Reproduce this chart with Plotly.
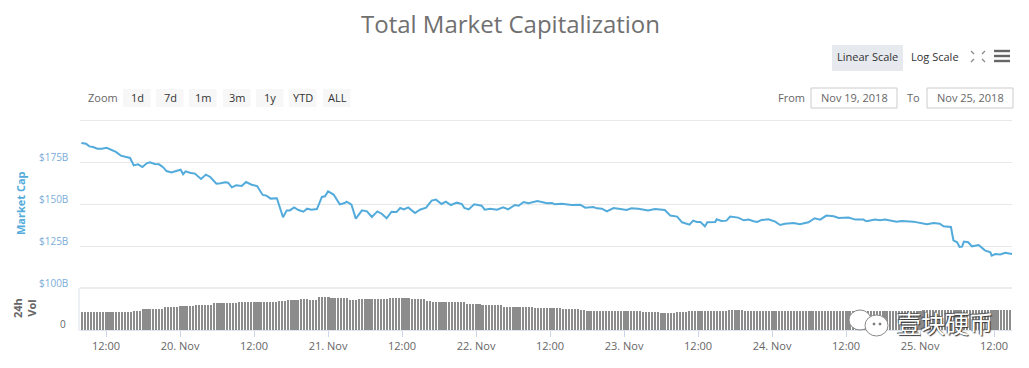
import pandas as pd
import plotly.graph_objects as go

W, H = 1029, 368

# Market cap series: hours since 2018-11-19 00:00, value in $B
cap_hours = [8.0,8.75,9.3,9.9,10.6,11.3,12.1,12.9,13.6,14.4,15.1,15.9,16.5,17.2,17.9,18.6,19.1,19.9,20.6,21.3,21.8,22.6,23.5,24.1,24.5,24.9,25.6,26.4,27.4,28.2,28.9,29.9,30.6,31.3,31.8,32.4,33.1,34.0,34.7,35.6,36.5,37.4,38.0,38.7,39.7,40.2,40.7,41.3,41.8,42.5,43.2,44.0,44.6,45.3,46.2,47.0,47.5,48.0,48.9,49.9,50.7,
51.0,51.8,52.5,53.5,54.3,55.1,56.0,56.7,57.5,58.3,59.1,59.7,60.3,61.0,62.1,62.9,63.9,64.8,65.5,66.4,67.1,67.9,68.9,69.7,70.1,70.8,71.7,72.9,73.4,74.3,75.4,76.4,77.2,78.3,78.9,79.7,80.5,81.95,83.5,84.3,84.8,85.9,87.5,88.9,89.7,91.0,91.6,92.4,93.2,94.3,95.4,96.4,97.2,98.3,99.9,101.0,102.6,103.5,104.6,105.4,106.6,
107.2,107.8,108.4,109.1,109.5,110.8,111.0,111.8,112.6,113.2,114.5,115.4,116.2,117.0,117.6,118.3,119.4,120.5,121.3,122.1,123.5,124.5,125.9,126.9,127.8,128.8,130.0,130.8,132.4,133.5,134.8,135.3,136.7,137.5,138.3,140.2,141.0,142.9,145.1,146.2,147.2,147.8,149.0,149.4,150.0,150.4,150.8,151.1,151.8,152.4,153.5,154.5,155.4,155.6,156.2,157.0,157.8,158.9]
cap_values = [186.3,185.9,184.3,183.9,182.9,182.9,183.5,182.3,181.0,178.8,178.0,177.4,173.0,173.6,172.0,174.2,174.8,173.8,173.6,171.8,169.6,168.8,169.8,170.4,167.7,169.4,168.6,168.1,164.9,167.5,166.1,162.1,162.3,162.9,162.7,159.9,161.1,160.7,163.1,161.5,160.7,155.4,155.0,153.2,153.4,147.6,142.1,146.2,146.2,148.0,146.4,145.4,147.2,146.6,147.0,154.2,154.6,157.5,155.6,149.8,150.6,
151.4,149.6,141.3,146.2,145.6,142.3,145.6,144.2,141.5,145.4,145.2,147.6,146.8,148.0,144.6,146.6,147.8,152.0,152.6,150.0,151.4,149.4,150.8,150.0,147.6,146.8,149.8,149.0,146.6,147.2,146.6,148.0,146.8,149.4,149.0,151.2,150.4,151.8,150.4,150.6,149.8,150.2,149.4,149.6,147.8,148.2,147.4,147.2,145.6,147.6,147.0,146.4,147.4,147.2,146.2,147.0,146.4,143.1,142.5,139.1,137.7,
140.1,139.3,139.3,136.7,139.1,139.3,140.9,139.9,140.1,142.5,141.9,140.3,140.7,139.7,139.3,140.5,140.9,139.5,137.5,138.3,138.7,137.9,139.1,141.5,140.7,143.1,142.7,141.7,141.9,140.7,140.7,139.7,140.7,140.3,140.7,139.5,139.9,139.5,137.9,138.7,138.3,136.7,136.3,128.4,127.2,124.4,124.6,127.6,127.2,124.8,125.6,122.4,121.2,119.2,120.2,120.0,121.0,120.2]

# 24h volume, half-hourly, as plateaus: level ($B) and number of bars
vol_levels = [12.4,12.8,13.5,14.7,15.9,16.8,17.5,18.7,19.4,20.1,21.0,21.7,21.0,22.9,22.2,21.2,21.9,22.4,21.5,20.5,19.4,18.2,17.3,16.1,15.4,14.7,14.0,13.5,13.1,12.4,11.7,12.4,13.1,13.5,14.0,13.5,13.6,13.1,14.0]
vol_runs =   [11,6,3,7,5,5,6,8,13,3,4,3,3,4,6,3,10,7,5,2,11,5,7,10,9,6,2,12,6,6,5,4,6,7,5,12,23,23,29]
vol_first_hour = 8.1

tick_hours = [12,24,36,48,60,72,84,96,108,120,132,144,156]
tick_labels = ["12:00","20. Nov","12:00","21. Nov","12:00","22. Nov","12:00","23. Nov","12:00","24. Nov","12:00","25. Nov","12:00"]
cap_ticks = [100,125,150,175,200]
cap_tick_labels = ["$100B","$125B","$150B","$175B"]
zoom_buttons = ["1d","7d","1m","3m","1y","YTD","ALL"]

T0 = pd.Timestamp("2018-11-19")
def t(h):
    return T0 + pd.Timedelta(hours=h)

vol_values = []
for lv, n in zip(vol_levels, vol_runs):
    vol_values += [lv] * n
vol_times = [t(vol_first_hour + 0.5 * i) for i in range(len(vol_values))]

def px(x): return x / W
def py(y): return 1 - y / H

FONT = "Open Sans, sans-serif"
BLUE = "#52abdb"

fig = go.Figure()
fig.add_trace(go.Scatter(x=[t(h) for h in cap_hours], y=cap_values, mode="lines",
                         line=dict(color=BLUE, width=2), xaxis="x", yaxis="y", hoverinfo="skip"))
fig.add_trace(go.Bar(x=vol_times, y=vol_values, width=1.0e6, marker=dict(color="#8c8c8c", line=dict(width=0)),
                     xaxis="x", yaxis="y2", hoverinfo="skip"))

shapes, annos = [], []

def text(x, y, s, size=11, color="#666666", bold=False, angle=0, family=FONT, **kw):
    if bold:
        s = "<b>" + s + "</b>"
    annos.append(dict(x=px(x), y=py(y), xref="paper", yref="paper", text=s, showarrow=False,
                      font=dict(size=size, color=color, family=family), textangle=angle,
                      xanchor="center", yanchor="middle", **kw))

def rect(x0, y0, x1, y1, fill, line=None):
    shapes.append(dict(type="rect", xref="paper", yref="paper", x0=px(x0), x1=px(x1), y0=py(y0), y1=py(y1),
                       fillcolor=fill, line=dict(color=line or fill, width=1 if line else 0), layer="below"))

def seg(x0, y0, x1, y1, color, width=1, layer="above"):
    shapes.append(dict(type="line", xref="paper", yref="paper", x0=px(x0), x1=px(x1), y0=py(y0), y1=py(y1),
                       line=dict(color=color, width=width), layer=layer))

def oval(x0, y0, x1, y1, fill, line):
    shapes.append(dict(type="circle", xref="paper", yref="paper", x0=px(x0), x1=px(x1), y0=py(y0), y1=py(y1),
                       fillcolor=fill, line=dict(color=line, width=1), layer="above"))

# Title and top-right controls
text(510.5, 24, "Total Market Capitalization", size=24, color="#707070")
rect(832, 45, 903, 71, "#e6e9ee")
text(867.5, 57, "Linear Scale", size=11, color="#333333")
text(935, 57, "Log Scale", size=11, color="#333333")
for a, b, c, d in [(971,51,974,54),(985,51,982,54),(971,62,974,59),(985,62,982,59)]:
    seg(a, b, c, d, "#888888", 1.2)
for yy in (51, 56, 61):
    seg(994, yy, 1010, yy, "#666666", 2.4)

# Range selector
text(103, 98, "Zoom", size=11)
bx = [123, 156, 189, 223, 256, 289, 323]
for x0, lab in zip(bx, zoom_buttons):
    rect(x0, 89, x0 + 27.5, 107, "#f7f7f7")
    text(x0 + 14, 97.5, lab, size=11, color="#333333")
text(791.5, 97, "From", size=11)
text(913.5, 97, "To", size=11)
rect(811, 88, 897, 108, "#ffffff", "#cccccc")
rect(927, 88, 1013, 108, "#ffffff", "#cccccc")
text(854, 97.5, "Nov 19, 2018", size=11)
text(970, 97.5, "Nov 25, 2018", size=11)

# Y axis labels sit just above their gridlines
for v, lab in zip(cap_ticks, cap_tick_labels):
    annos.append(dict(x=px(53), y=v, xref="paper", yref="y", text=lab, showarrow=False, yshift=5,
                      font=dict(size=10, color="#7cacd8", family=FONT), xanchor="center", yanchor="middle"))
text(62.5, 324, "0", size=10)
text(21, 203, "Market Cap", size=11, color=BLUE, bold=True, angle=-90)
text(24, 308, "24h<br>Vol", size=11, color="#666666", bold=True, angle=-90)

# Top gridline, pane separator and left rule
seg(80, 120.5, 1012, 120.5, "#e8e8e8", 1, "below")
seg(80, 288, 1012, 288, "#ececec", 2, "below")
seg(79, 288, 79, 331, "#dbe3ee", 1, "below")

# Watermark
oval(849, 310, 871, 330, "#ffffff", "#8a8a8a")
oval(865, 315, 888, 336, "#ffffff", "#8a8a8a")
for cx in (874, 880):
    oval(cx - 1, 323, cx + 1, 325, "#777777", "#777777")
annos.append(dict(x=px(945), y=py(322), xref="paper", yref="paper", text="壹块硬币", showarrow=False,
                  font=dict(size=24, color="#ffffff", family="Noto Sans CJK SC",
                            shadow="1px 1px 1px #333333, -1px -1px 1px #555555"),
                  xanchor="center", yanchor="middle"))

fig.update_layout(
    width=W, height=H, autosize=False, margin=dict(l=0, r=0, t=0, b=0),
    paper_bgcolor="#ffffff", plot_bgcolor="rgba(0,0,0,0)", showlegend=False, bargap=0,
    shapes=shapes, annotations=annos, font=dict(family=FONT),
    xaxis=dict(domain=[px(80), px(1012)], range=[t(7.78), t(158.9)], type="date", anchor="y2",
               tickmode="array", tickvals=[t(h) for h in tick_hours], ticktext=tick_labels,
               ticks="outside", ticklen=6, tickcolor="#ccd6eb", tickwidth=1,
               tickfont=dict(size=11, color="#666666", family=FONT),
               showgrid=False, zeroline=False, showline=True, linecolor="#dfe5ee", linewidth=1),
    yaxis=dict(domain=[py(288), py(120)], range=[100, 200], tickmode="array", tickvals=cap_ticks,
               showticklabels=False, gridcolor="#e8e8e8", gridwidth=1, zeroline=False, ticks=""),
    yaxis2=dict(domain=[py(330), py(288)], range=[0, 29.4], showgrid=False, showticklabels=False,
                zeroline=False, ticks="", anchor="x"),
)

fig.write_html("out.html", config={"displayModeBar": False},
               post_script="document.body.style.margin='0';document.body.style.overflow='hidden';")
